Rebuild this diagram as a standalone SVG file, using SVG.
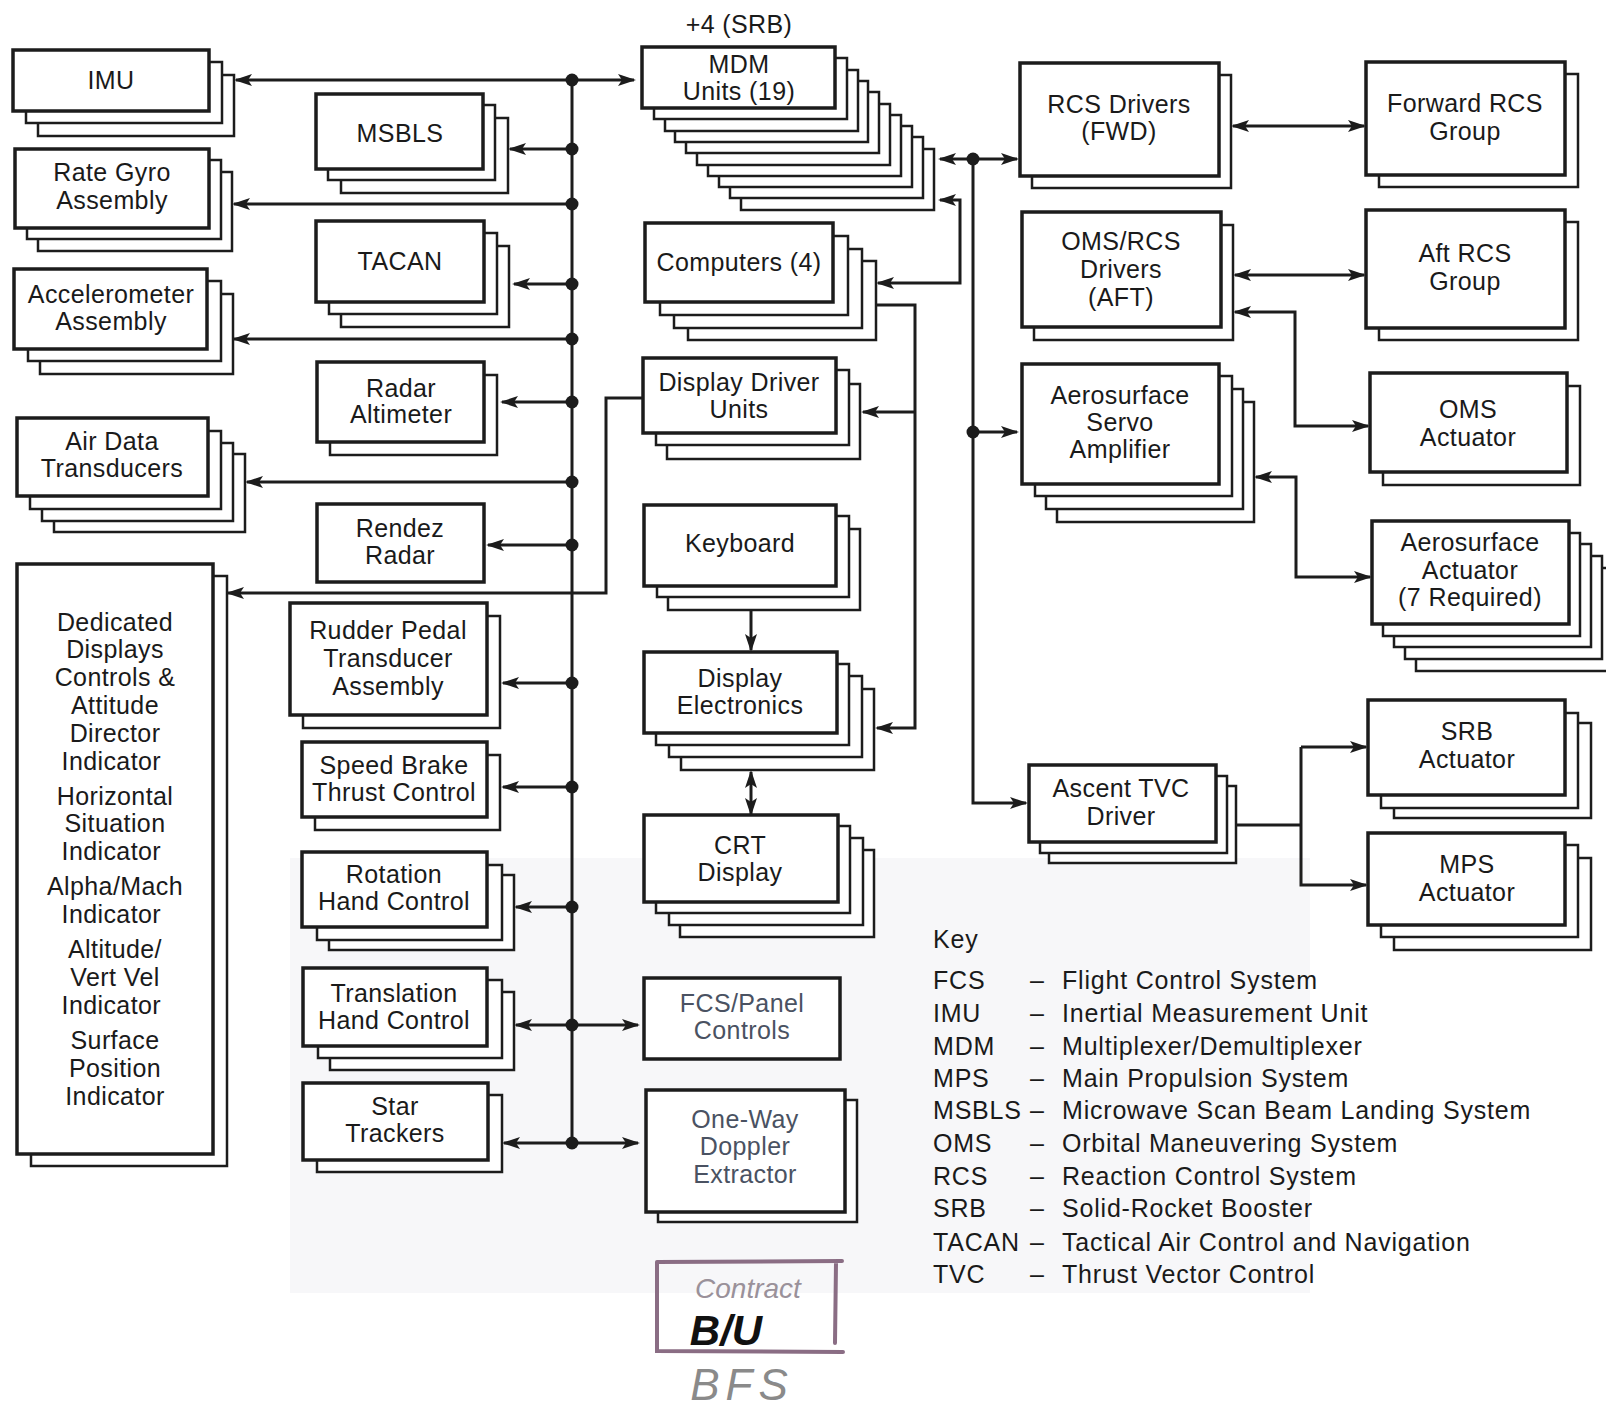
<svg xmlns="http://www.w3.org/2000/svg" width="1606" height="1417" viewBox="0 0 1606 1417">
<style>
.mn{fill:#fff;stroke:#1c1c1c;stroke-width:3.5}
.sh{fill:#fff;stroke:#1c1c1c;stroke-width:2.5}
.t{font-family:"Liberation Sans",Arial,sans-serif;font-size:25px;fill:#1a1a1a;text-anchor:middle;letter-spacing:0.4px}
.tb{fill:#4a5262}
.k{font-family:"Liberation Sans",Arial,sans-serif;font-size:25px;fill:#1a1a1a;letter-spacing:0.8px}
.c{fill:none;stroke:#1c1c1c;stroke-width:3}
.a2{marker-start:url(#ah);marker-end:url(#ah)}
.a1{marker-end:url(#ah)}
.dot{fill:#1c1c1c}
</style>
<defs>
<marker id="ah" viewBox="0 0 18 12" refX="16" refY="6" markerWidth="18" markerHeight="12" markerUnits="userSpaceOnUse" orient="auto-start-reverse">
<path d="M0,0 L18,6 L0,12 L4,6 z" fill="#1c1c1c"/>
</marker>
</defs>
<rect x="0" y="0" width="1606" height="1417" fill="#fff"/>
<rect x="290" y="858" width="1020" height="435" fill="#f7f7f9"/>

<g id="imu">
<rect class="sh" x="38" y="75" width="196" height="61"/><rect class="sh" x="26" y="62" width="196" height="61"/><rect class="mn" x="13" y="50" width="196" height="61"/>
<text class="t"><tspan x="111" y="89">IMU</tspan></text>
</g>
<g id="rate-gyro">
<rect class="sh" x="38" y="172" width="194" height="79"/><rect class="sh" x="27" y="160" width="194" height="79"/><rect class="mn" x="15" y="149" width="194" height="79"/>
<text class="t"><tspan x="112" y="181">Rate Gyro</tspan><tspan x="112" y="209">Assembly</tspan></text>
</g>
<g id="accelerometer">
<rect class="sh" x="40" y="294" width="193" height="80"/><rect class="sh" x="28" y="281" width="193" height="80"/><rect class="mn" x="14" y="269" width="193" height="80"/>
<text class="t"><tspan x="111" y="303">Accelerometer</tspan><tspan x="111" y="330">Assembly</tspan></text>
</g>
<g id="air-data">
<rect class="sh" x="54" y="454" width="191" height="78"/><rect class="sh" x="42" y="443" width="191" height="78"/><rect class="sh" x="30" y="431" width="191" height="78"/><rect class="mn" x="17" y="418" width="191" height="78"/>
<text class="t"><tspan x="112" y="450">Air Data</tspan><tspan x="112" y="477">Transducers</tspan></text>
</g>
<g id="dedicated-displays">
<rect class="sh" x="31" y="576" width="196" height="590"/><rect class="mn" x="17" y="564" width="196" height="590"/>
<text class="t">
<tspan x="115" y="631">Dedicated</tspan><tspan x="115" y="658">Displays</tspan><tspan x="115" y="686">Controls &amp;</tspan><tspan x="115" y="714">Attitude</tspan><tspan x="115" y="742">Director</tspan><tspan x="115" y="770">Indicator</tspan>
<tspan x="115" y="805">Horizontal</tspan><tspan x="115" y="832">Situation</tspan><tspan x="115" y="860">Indicator</tspan>
<tspan x="115" y="895">Alpha/Mach</tspan><tspan x="115" y="923">Indicator</tspan>
<tspan x="115" y="958">Altitude/</tspan><tspan x="115" y="986">Vert Vel</tspan><tspan x="115" y="1014">Indicator</tspan>
<tspan x="115" y="1049">Surface</tspan><tspan x="115" y="1077">Position</tspan><tspan x="115" y="1105">Indicator</tspan>
</text>
</g>

<g id="msbls">
<rect class="sh" x="341" y="118" width="167" height="75"/><rect class="sh" x="328" y="105" width="167" height="75"/><rect class="mn" x="316" y="94" width="167" height="75"/>
<text class="t"><tspan x="400" y="142">MSBLS</tspan></text>
</g>
<g id="tacan">
<rect class="sh" x="341" y="246" width="168" height="81"/><rect class="sh" x="329" y="233" width="168" height="81"/><rect class="mn" x="316" y="221" width="168" height="81"/>
<text class="t"><tspan x="400" y="270">TACAN</tspan></text>
</g>
<g id="radar-altimeter">
<rect class="sh" x="330" y="375" width="167" height="80"/><rect class="mn" x="317" y="362" width="167" height="80"/>
<text class="t"><tspan x="401" y="397">Radar</tspan><tspan x="401" y="423">Altimeter</tspan></text>
</g>
<g id="rendez-radar">
<rect class="mn" x="317" y="504" width="167" height="78"/>
<text class="t"><tspan x="400" y="537">Rendez</tspan><tspan x="400" y="564">Radar</tspan></text>
</g>
<g id="rudder-pedal">
<rect class="sh" x="303" y="616" width="197" height="112"/><rect class="mn" x="290" y="603" width="197" height="112"/>
<text class="t"><tspan x="388" y="639">Rudder Pedal</tspan><tspan x="388" y="667">Transducer</tspan><tspan x="388" y="695">Assembly</tspan></text>
</g>
<g id="speed-brake">
<rect class="sh" x="315" y="755" width="185" height="75"/><rect class="mn" x="302" y="742" width="185" height="75"/>
<text class="t"><tspan x="394" y="774">Speed Brake</tspan><tspan x="394" y="801">Thrust Control</tspan></text>
</g>
<g id="rotation-hand-control">
<rect class="sh" x="329" y="875" width="185" height="75"/><rect class="sh" x="317" y="865" width="185" height="75"/><rect class="mn" x="302" y="852" width="185" height="75"/>
<text class="t"><tspan x="394" y="883">Rotation</tspan><tspan x="394" y="910">Hand Control</tspan></text>
</g>
<g id="translation-hand-control">
<rect class="sh" x="330" y="992" width="184" height="78"/><rect class="sh" x="318" y="980" width="184" height="78"/><rect class="mn" x="303" y="968" width="184" height="78"/>
<text class="t"><tspan x="394" y="1002">Translation</tspan><tspan x="394" y="1029">Hand Control</tspan></text>
</g>
<g id="star-trackers">
<rect class="sh" x="317" y="1095" width="185" height="77"/><rect class="mn" x="303" y="1083" width="185" height="77"/>
<text class="t"><tspan x="395" y="1115">Star</tspan><tspan x="395" y="1142">Trackers</tspan></text>
</g>

<g id="mdm">
<text class="t"><tspan x="739" y="33">+4 (SRB)</tspan></text>
<rect class="sh" x="741" y="149" width="193" height="61"/>
<rect class="sh" x="730" y="137" width="193" height="61"/>
<rect class="sh" x="719" y="126" width="193" height="61"/>
<rect class="sh" x="708" y="115" width="193" height="61"/>
<rect class="sh" x="697" y="104" width="193" height="61"/>
<rect class="sh" x="686" y="92" width="193" height="61"/>
<rect class="sh" x="675" y="81" width="193" height="61"/>
<rect class="sh" x="665" y="70" width="193" height="61"/>
<rect class="sh" x="654" y="58" width="193" height="61"/>
<rect class="mn" x="642" y="47" width="193" height="61"/>
<text class="t"><tspan x="739" y="73">MDM</tspan><tspan x="739" y="100">Units (19)</tspan></text>
</g>
<g id="computers">
<rect class="sh" x="688" y="261" width="188" height="79"/><rect class="sh" x="674" y="249" width="188" height="79"/><rect class="sh" x="660" y="236" width="188" height="79"/><rect class="mn" x="645" y="223" width="188" height="79"/>
<text class="t"><tspan x="739" y="271">Computers (4)</tspan></text>
</g>
<g id="display-driver-units">
<rect class="sh" x="667" y="384" width="193" height="75"/><rect class="sh" x="656" y="370" width="193" height="75"/><rect class="mn" x="643" y="358" width="193" height="75"/>
<text class="t"><tspan x="739" y="391">Display Driver</tspan><tspan x="739" y="418">Units</tspan></text>
</g>
<g id="keyboard">
<rect class="sh" x="668" y="529" width="192" height="81"/><rect class="sh" x="657" y="516" width="192" height="81"/><rect class="mn" x="644" y="505" width="192" height="81"/>
<text class="t"><tspan x="740" y="552">Keyboard</tspan></text>
</g>
<g id="display-electronics">
<rect class="sh" x="681" y="689" width="193" height="81"/><rect class="sh" x="669" y="676" width="193" height="81"/><rect class="sh" x="656" y="664" width="193" height="81"/><rect class="mn" x="644" y="652" width="193" height="81"/>
<text class="t"><tspan x="740" y="687">Display</tspan><tspan x="740" y="714">Electronics</tspan></text>
</g>
<g id="crt-display">
<rect class="sh" x="680" y="850" width="194" height="87"/><rect class="sh" x="669" y="838" width="194" height="87"/><rect class="sh" x="656" y="826" width="194" height="87"/><rect class="mn" x="644" y="815" width="194" height="87"/>
<text class="t"><tspan x="740" y="854">CRT</tspan><tspan x="740" y="881">Display</tspan></text>
</g>
<g id="fcs-panel-controls">
<rect class="mn" x="644" y="978" width="196" height="81"/>
<text class="t tb"><tspan x="742" y="1012">FCS/Panel</tspan><tspan x="742" y="1039">Controls</tspan></text>
</g>
<g id="one-way-doppler">
<rect class="sh" x="658" y="1100" width="199" height="122"/><rect class="mn" x="646" y="1090" width="199" height="122"/>
<text class="t tb"><tspan x="745" y="1128">One-Way</tspan><tspan x="745" y="1155">Doppler</tspan><tspan x="745" y="1183">Extractor</tspan></text>
</g>

<g id="rcs-drivers-fwd">
<rect class="sh" x="1032" y="75" width="199" height="113"/><rect class="mn" x="1020" y="63" width="199" height="113"/>
<text class="t"><tspan x="1119" y="113">RCS Drivers</tspan><tspan x="1119" y="140">(FWD)</tspan></text>
</g>
<g id="oms-rcs-drivers-aft">
<rect class="sh" x="1034" y="225" width="199" height="115"/><rect class="mn" x="1022" y="212" width="199" height="115"/>
<text class="t"><tspan x="1121" y="250">OMS/RCS</tspan><tspan x="1121" y="278">Drivers</tspan><tspan x="1121" y="306">(AFT)</tspan></text>
</g>
<g id="aerosurface-servo-amplifier">
<rect class="sh" x="1057" y="402" width="197" height="120"/><rect class="sh" x="1046" y="389" width="197" height="120"/><rect class="sh" x="1035" y="376" width="197" height="120"/><rect class="mn" x="1022" y="364" width="197" height="120"/>
<text class="t"><tspan x="1120" y="404">Aerosurface</tspan><tspan x="1120" y="431">Servo</tspan><tspan x="1120" y="458">Amplifier</tspan></text>
</g>
<g id="ascent-tvc-driver">
<rect class="sh" x="1049" y="786" width="187" height="77"/><rect class="sh" x="1040" y="776" width="187" height="77"/><rect class="mn" x="1029" y="765" width="187" height="77"/>
<text class="t"><tspan x="1121" y="797">Ascent TVC</tspan><tspan x="1121" y="825">Driver</tspan></text>
</g>
<g id="forward-rcs-group">
<rect class="sh" x="1379" y="74" width="199" height="113"/><rect class="mn" x="1366" y="62" width="199" height="113"/>
<text class="t"><tspan x="1465" y="112">Forward RCS</tspan><tspan x="1465" y="140">Group</tspan></text>
</g>
<g id="aft-rcs-group">
<rect class="sh" x="1379" y="222" width="199" height="118"/><rect class="mn" x="1366" y="210" width="199" height="118"/>
<text class="t"><tspan x="1465" y="262">Aft RCS</tspan><tspan x="1465" y="290">Group</tspan></text>
</g>
<g id="oms-actuator">
<rect class="sh" x="1383" y="386" width="197" height="99"/><rect class="mn" x="1370" y="373" width="197" height="99"/>
<text class="t"><tspan x="1468" y="418">OMS</tspan><tspan x="1468" y="446">Actuator</tspan></text>
</g>
<g id="aerosurface-actuator">
<rect class="sh" x="1416" y="568" width="197" height="103"/><rect class="sh" x="1405" y="556" width="197" height="103"/><rect class="sh" x="1394" y="544" width="197" height="103"/><rect class="sh" x="1383" y="533" width="197" height="103"/><rect class="mn" x="1372" y="521" width="197" height="103"/>
<text class="t"><tspan x="1470" y="551">Aerosurface</tspan><tspan x="1470" y="579">Actuator</tspan><tspan x="1470" y="606">(7 Required)</tspan></text>
</g>
<g id="srb-actuator">
<rect class="sh" x="1394" y="723" width="197" height="95"/><rect class="sh" x="1381" y="713" width="197" height="95"/><rect class="mn" x="1368" y="700" width="197" height="95"/>
<text class="t"><tspan x="1467" y="740">SRB</tspan><tspan x="1467" y="768">Actuator</tspan></text>
</g>
<g id="mps-actuator">
<rect class="sh" x="1394" y="858" width="197" height="92"/><rect class="sh" x="1381" y="845" width="197" height="92"/><rect class="mn" x="1368" y="833" width="197" height="92"/>
<text class="t"><tspan x="1467" y="873">MPS</tspan><tspan x="1467" y="901">Actuator</tspan></text>
</g>

<g id="connectors">
<path class="c" d="M572,80 V1143"/>
<path class="c a2" d="M236,80 H634"/>
<path class="c a1" d="M572,149 H510"/>
<path class="c a1" d="M572,204 H234"/>
<path class="c a1" d="M572,284 H514"/>
<path class="c a1" d="M572,339 H234"/>
<path class="c a1" d="M572,402 H502"/>
<path class="c a1" d="M572,482 H247"/>
<path class="c a1" d="M572,545 H488"/>
<path class="c a1" d="M572,683 H503"/>
<path class="c a1" d="M572,787 H503"/>
<path class="c a1" d="M572,907 H516"/>
<path class="c a2" d="M516,1025 H638"/>
<path class="c a2" d="M504,1143 H638"/>
<path class="c a1" d="M643,398 H606 V593 H228"/>
<path class="c a2" d="M940,159 H1017"/>
<path class="c a1" d="M973,159 V803 H1026"/>
<path class="c a1" d="M973,432 H1017"/>
<path class="c a2" d="M878,283 H960 V200 H940"/>
<path class="c a1" d="M876,305 H915 V728 H877"/>
<path class="c a1" d="M915,412 H863"/>
<path class="c a1" d="M751,610 V650"/>
<path class="c a2" d="M751,772 V814"/>
<path class="c a2" d="M1233,126 H1364"/>
<path class="c a2" d="M1235,275 H1364"/>
<path class="c a2" d="M1235,312 H1295 V426 H1368"/>
<path class="c a2" d="M1256,477 H1296 V577 H1370"/>
<path class="c" d="M1236,825 H1301"/>
<path class="c a1" d="M1301,747 V885 H1366"/>
<path class="c a1" d="M1301,747 H1366"/>
<g class="dot">
<circle cx="572" cy="80" r="6.5"/><circle cx="572" cy="149" r="6.5"/><circle cx="572" cy="204" r="6.5"/><circle cx="572" cy="284" r="6.5"/><circle cx="572" cy="339" r="6.5"/><circle cx="572" cy="402" r="6.5"/><circle cx="572" cy="482" r="6.5"/><circle cx="572" cy="545" r="6.5"/><circle cx="572" cy="683" r="6.5"/><circle cx="572" cy="787" r="6.5"/><circle cx="572" cy="907" r="6.5"/><circle cx="572" cy="1025" r="6.5"/><circle cx="572" cy="1143" r="6.5"/>
<circle cx="973" cy="159" r="6.5"/><circle cx="973" cy="432" r="6.5"/>
</g>
</g>

<g id="key">
<text class="k" x="933" y="948">Key</text>
<text class="k" x="933" y="989">FCS</text><text class="k" x="1030" y="989">–</text><text class="k" x="1062" y="989">Flight Control System</text>
<text class="k" x="933" y="1022">IMU</text><text class="k" x="1030" y="1022">–</text><text class="k" x="1062" y="1022">Inertial Measurement Unit</text>
<text class="k" x="933" y="1055">MDM</text><text class="k" x="1030" y="1055">–</text><text class="k" x="1062" y="1055">Multiplexer/Demultiplexer</text>
<text class="k" x="933" y="1087">MPS</text><text class="k" x="1030" y="1087">–</text><text class="k" x="1062" y="1087">Main Propulsion System</text>
<text class="k" x="933" y="1119">MSBLS</text><text class="k" x="1030" y="1119">–</text><text class="k" x="1062" y="1119">Microwave Scan Beam Landing System</text>
<text class="k" x="933" y="1152">OMS</text><text class="k" x="1030" y="1152">–</text><text class="k" x="1062" y="1152">Orbital Maneuvering System</text>
<text class="k" x="933" y="1185">RCS</text><text class="k" x="1030" y="1185">–</text><text class="k" x="1062" y="1185">Reaction Control System</text>
<text class="k" x="933" y="1217">SRB</text><text class="k" x="1030" y="1217">–</text><text class="k" x="1062" y="1217">Solid-Rocket Booster</text>
<text class="k" x="933" y="1251">TACAN</text><text class="k" x="1030" y="1251">–</text><text class="k" x="1062" y="1251">Tactical Air Control and Navigation</text>
<text class="k" x="933" y="1283">TVC</text><text class="k" x="1030" y="1283">–</text><text class="k" x="1062" y="1283">Thrust Vector Control</text>
</g>

<g id="annotation">
<path d="M657,1262 L842,1261 M836,1263 L835,1343 M657,1262 L657,1351 L843,1352" fill="none" stroke="#8a6d84" stroke-width="4" stroke-linecap="round"/>
<text x="748" y="1298" font-family="Liberation Sans,Arial,sans-serif" font-style="italic" font-size="28" fill="#9a919a" text-anchor="middle">Contract</text>
<text x="726" y="1345" font-family="Liberation Sans,Arial,sans-serif" font-style="italic" font-weight="bold" font-size="42" fill="#111" text-anchor="middle">B/U</text>
<text x="742" y="1400" font-family="Liberation Sans,Arial,sans-serif" font-style="italic" font-size="44" fill="#8a8a8a" text-anchor="middle" letter-spacing="6">BFS</text>
</g>
</svg>
